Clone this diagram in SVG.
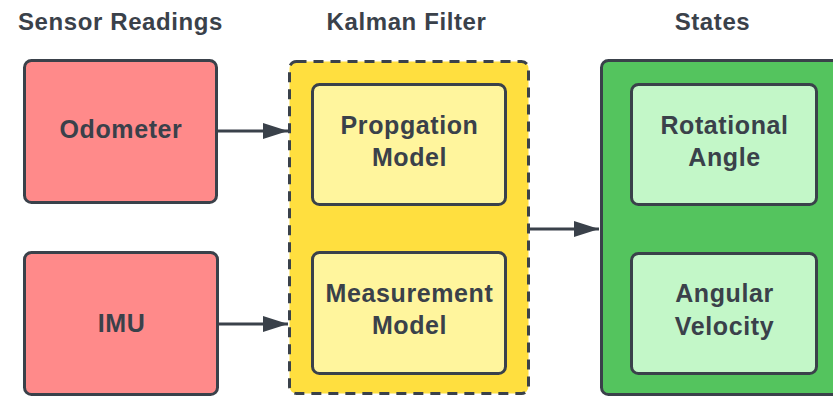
<svg xmlns="http://www.w3.org/2000/svg" width="833" height="397" viewBox="0 0 833 397">
<defs>
<style>
text{font-family:"Liberation Sans",Arial,sans-serif;font-weight:bold;fill:#3a414a;text-anchor:middle}
.title{font-size:24px;letter-spacing:0.6px}
.lbl{font-size:25px;letter-spacing:0.6px}
.box{stroke:#3a414a;stroke-width:3}
.red{fill:#ff8a8a}
.yel{fill:#ffdf3f}
.pyel{fill:#fff59d}
.grn{fill:#54c45e}
.pgrn{fill:#c3f7c8}
.conn{stroke:#3a414a;stroke-width:3;fill:none}
</style>
<marker id="ah" viewBox="0 0 25 16" refX="25" refY="8" markerWidth="25" markerHeight="16" markerUnits="userSpaceOnUse" orient="auto">
<path d="M0,0 L25,8 L0,16 Z" fill="#3a414a"/>
</marker>
</defs>
<rect width="833" height="397" fill="#ffffff"/>
<g id="titles">
<text class="title" x="120.5" y="30">Sensor Readings</text>
<text class="title" x="406.5" y="30">Kalman Filter</text>
<text class="title" x="712.5" y="30">States</text>
</g>
<g id="kalman">
<rect class="box yel" x="289.5" y="61.5" width="239" height="332" rx="7" stroke-dasharray="10 7"/>
</g>
<g id="states">
<rect class="box grn" x="601.5" y="60.5" width="260" height="334" rx="7"/>
</g>
<g id="odometer">
<rect class="box red" x="24.5" y="60.5" width="192" height="142" rx="7"/>
<text class="lbl" x="121" y="138">Odometer</text>
</g>
<g id="imu">
<rect class="box red" x="24.5" y="252.5" width="193" height="142" rx="7"/>
<text class="lbl" x="121.5" y="332">IMU</text>
</g>
<g id="propagation">
<rect class="box pyel" x="312.5" y="84.5" width="193" height="120" rx="7"/>
<text class="lbl" x="409.5" y="134">Propgation</text>
<text class="lbl" x="409.5" y="166">Model</text>
</g>
<g id="measurement">
<rect class="box pyel" x="312.5" y="252.5" width="193" height="121" rx="7"/>
<text class="lbl" x="409.5" y="302">Measurement</text>
<text class="lbl" x="409.5" y="334">Model</text>
</g>
<g id="rotational">
<rect class="box pgrn" x="631.5" y="84.5" width="185" height="120" rx="7"/>
<text class="lbl" x="724.5" y="134">Rotational</text>
<text class="lbl" x="724.5" y="166">Angle</text>
</g>
<g id="angular">
<rect class="box pgrn" x="631.5" y="253.5" width="185" height="120" rx="7"/>
<text class="lbl" x="724.5" y="302">Angular</text>
<text class="lbl" x="724.5" y="335">Velocity</text>
</g>
<g id="connectors">
<path class="conn" d="M217,131 L288,131" marker-end="url(#ah)"/>
<path class="conn" d="M218,324 L288,324" marker-end="url(#ah)"/>
<path class="conn" d="M530,229 L599,229" marker-end="url(#ah)"/>
</g>
</svg>
